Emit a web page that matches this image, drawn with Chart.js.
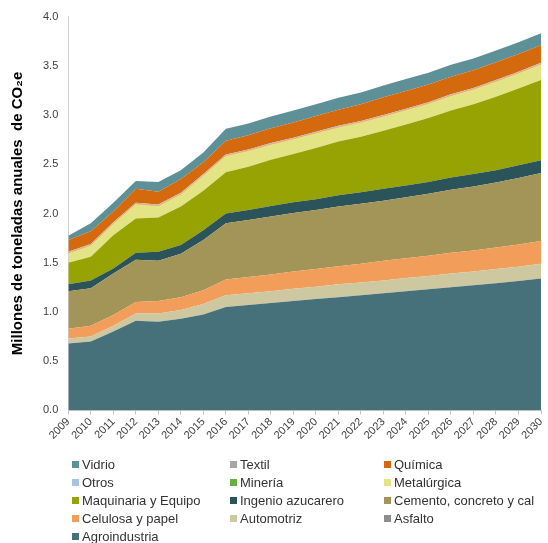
<!DOCTYPE html>
<html>
<head>
<meta charset="utf-8">
<script src="https://cdn.jsdelivr.net/npm/chart.js@4.4.1/dist/chart.umd.min.js"></script>
<style>
    html, body { margin: 0; padding: 0; background: #fff; }
    #wrap { position: relative; width: 548px; height: 543px; }
    #legend {
        position: absolute; left: 72px; top: 457px;
        display: grid; grid-template-columns: 158px 154px auto;
        row-gap: 4px;
        font: 13px "Liberation Sans", Arial, sans-serif; color: #333;
    }
    #legend .item { display: flex; align-items: center; height: 14px; white-space: nowrap; }
    #legend .box { width: 7px; height: 7px; margin-right: 3px; }
</style>
</head>
<body>
<div id="wrap">
    <canvas id="chart" width="548" height="543"></canvas>
    <div id="legend"></div>
</div>
<script>
// Years (x axis)
const years = ['2009','2010','2011','2012','2013','2014','2015','2016','2017','2018','2019',
               '2020','2021','2022','2023','2024','2025','2026','2027','2028','2029','2030'];

// Series values, millones de toneladas CO2e (stack order: bottom -> top)
const agroindustria = [0.68,0.70,0.80,0.91,0.90,0.93,0.975,1.05,1.07,1.09,1.11,1.13,1.15,1.17,1.19,1.21,1.23,1.25,1.27,1.29,1.315,1.34];
const asfalto       = [0,0,0,0,0,0,0,0,0,0,0,0,0,0,0,0,0,0,0,0,0,0];
const automotriz    = [0.05,0.05,0.06,0.075,0.085,0.09,0.105,0.12,0.12,0.12,0.125,0.125,0.13,0.13,0.13,0.135,0.135,0.14,0.14,0.145,0.145,0.15];
const celulosa      = [0.10,0.11,0.11,0.115,0.125,0.13,0.14,0.16,0.165,0.17,0.175,0.18,0.185,0.19,0.20,0.20,0.205,0.21,0.215,0.22,0.225,0.23];
const cemento       = [0.38,0.38,0.42,0.43,0.41,0.44,0.51,0.57,0.58,0.59,0.595,0.60,0.605,0.61,0.61,0.62,0.63,0.64,0.65,0.66,0.675,0.69];
const ingenio       = [0.07,0.08,0.05,0.07,0.09,0.09,0.10,0.10,0.10,0.105,0.11,0.11,0.115,0.115,0.12,0.12,0.12,0.125,0.125,0.125,0.13,0.13];
const maquinaria    = [0.22,0.24,0.34,0.35,0.35,0.39,0.40,0.42,0.44,0.47,0.49,0.52,0.545,0.565,0.59,0.62,0.65,0.68,0.71,0.745,0.78,0.815];
const metalurgica   = [0.10,0.12,0.12,0.15,0.12,0.13,0.16,0.17,0.165,0.16,0.155,0.155,0.15,0.15,0.15,0.15,0.15,0.155,0.155,0.16,0.16,0.165];
const mineria       = [0,0,0,0,0,0,0,0,0,0,0,0,0,0,0,0,0,0,0,0,0,0];
const otros         = [0.01,0.01,0.01,0.01,0.01,0.01,0.01,0.01,0.01,0.01,0.01,0.01,0.01,0.01,0.01,0.01,0.01,0.01,0.01,0.01,0.01,0.01];
const quimica       = [0.12,0.13,0.11,0.14,0.13,0.14,0.12,0.14,0.145,0.15,0.155,0.16,0.165,0.17,0.18,0.18,0.18,0.18,0.18,0.18,0.18,0.18];
const textil        = [0,0,0,0,0,0,0,0,0,0,0,0,0,0,0,0,0,0,0,0,0,0];
const vidrio        = [0.045,0.08,0.09,0.08,0.10,0.09,0.10,0.12,0.12,0.12,0.12,0.12,0.12,0.12,0.12,0.12,0.12,0.12,0.12,0.12,0.12,0.12];

// Y ticks
const yTicks = [0, 0.5, 1.0, 1.5, 2.0, 2.5, 3.0, 3.5, 4.0];

const series = [
    { label: 'Agroindustria', data: agroindustria, color: '#46707a' },
    { label: 'Asfalto', data: asfalto, color: '#8c8c8c' },
    { label: 'Automotriz', data: automotriz, color: '#cdc8a0' },
    { label: 'Celulosa y papel', data: celulosa, color: '#f29d5a' },
    { label: 'Cemento, concreto y cal', data: cemento, color: '#a39457' },
    { label: 'Ingenio azucarero', data: ingenio, color: '#2a535a' },
    { label: 'Maquinaria y Equipo', data: maquinaria, color: '#97a203' },
    { label: 'Metalúrgica', data: metalurgica, color: '#e2e485', line: '#f5a46a' },
    { label: 'Minería', data: mineria, color: '#6aae3e' },
    { label: 'Otros', data: otros, color: '#a9c4e2' },
    { label: 'Química', data: quimica, color: '#d4690d' },
    { label: 'Textil', data: textil, color: '#a6a6a6' },
    { label: 'Vidrio', data: vidrio, color: '#5e9197' }
];

const datasets = series.map((s, i) => ({
    label: s.label,
    data: s.data,
    backgroundColor: s.color,
    borderColor: s.line || s.color,
    borderWidth: s.line ? 1 : 0,
    pointRadius: 0,
    tension: 0,
    fill: i === 0 ? 'origin' : '-1'
}));

const tickFont = { family: '"Liberation Sans", Arial, sans-serif', size: 11 };

new Chart(document.getElementById('chart'), {
    type: 'line',
    data: { labels: years, datasets: datasets },
    options: {
        responsive: false,
        animation: false,
        layout: { padding: { left: 9, right: 7, top: 13, bottom: 100 } },
        plugins: {
            legend: { display: false },
            tooltip: { enabled: false }
        },
        scales: {
            x: {
                offset: false,
                afterFit: s => { s.paddingRight = 0; },
                grid: { drawOnChartArea: false, color: '#bfbfbf', tickLength: 4 },
                border: { color: '#bfbfbf' },
                ticks: { font: tickFont, color: '#404040', maxRotation: 45, minRotation: 45, autoSkip: false, padding: 1 }
            },
            y: {
                stacked: true,
                min: 0,
                max: 4,
                afterBuildTicks: axis => { axis.ticks = yTicks.map(v => ({ value: v })); },
                grid: { drawOnChartArea: false, drawTicks: false },
                border: { color: '#d0d0d0' },
                ticks: { font: tickFont, color: '#404040', padding: 10, callback: v => v.toFixed(1) },
                title: {
                    display: true,
                    text: 'Millones de toneladas anuales  de CO₂e',
                    font: { family: '"Liberation Sans", Arial, sans-serif', size: 15, weight: 'bold' },
                    color: '#000',
                    padding: { top: 0, bottom: 6 }
                }
            }
        }
    }
});

// HTML legend in a 3-column grid, top series first
const legend = document.getElementById('legend');
series.slice().reverse().forEach(s => {
    const item = document.createElement('div');
    item.className = 'item';
    item.innerHTML = `<span class="box" style="background:${s.color}"></span><span>${s.label}</span>`;
    legend.appendChild(item);
});
</script>
</body>
</html>
